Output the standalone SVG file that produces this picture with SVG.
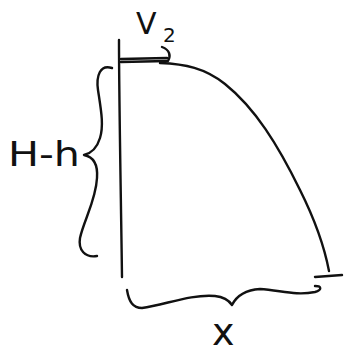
<svg xmlns="http://www.w3.org/2000/svg" width="345" height="356" viewBox="0 0 345 356">
<style>
.ink{fill:none;stroke:#111;stroke-width:2.4;stroke-linecap:round;stroke-linejoin:round}
.lbl{font-family:"DejaVu Sans","Liberation Sans",sans-serif;fill:#111}
</style>
<rect width="345" height="356" fill="#fff"/>
<g id="wall">
<path class="ink" d="M119,40 C119,100 121,200 122,277"/>
</g>
<g id="trajectory">
<path class="ink" d="M160,63 C185,64 205,68 225,84 C255,108 278,145 300,190 C315,220 325,250 329,271"/>
<path class="ink" d="M315,277 L342,275"/>
</g>
<g id="velocity">
<path class="ink" d="M121,59 L167,58 M121,62 L167,61"/>
<path class="ink" d="M162,47 C170,50 171,56 168,61"/>
<text class="lbl" x="136" y="34" font-size="30">V</text>
<text class="lbl" x="163" y="42" font-size="20">2</text>
</g>
<g id="height-brace">
<path class="ink" d="M112,68 C100,64 96,76 98,90 C101,110 104,125 100,138 C97,148 92,153 84,155 C94,157 98,165 97,178 C96,200 84,220 80,238 C78,250 85,258 97,256"/>
<text class="lbl" x="8" y="166" font-size="34" textLength="72" lengthAdjust="spacingAndGlyphs">H-h</text>
</g>
<g id="distance-brace">
<path class="ink" d="M127,290 C129,302 133,308 142,308 C165,305 190,294 215,296 C225,297 230,302 232,305 C236,297 245,290 260,289 C280,290 295,296 315,292 C322,290 322,286 315,286"/>
<text class="lbl" x="212" y="345" font-size="38">x</text>
</g>
</svg>
